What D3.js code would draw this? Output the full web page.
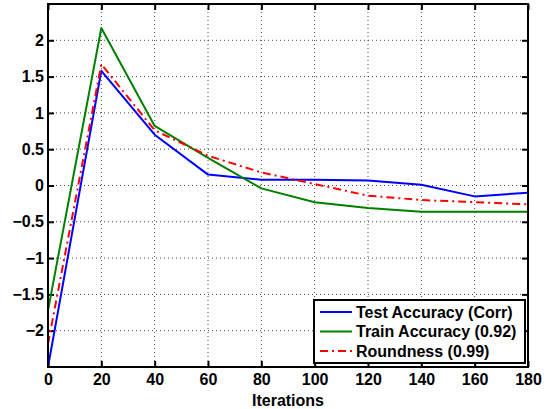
<!DOCTYPE html>
<html>
<head>
<meta charset="utf-8">
<script src="https://cdn.jsdelivr.net/npm/d3@7"></script>
<style>
  body { margin: 0; background: #fff; }
  text { font-family: 'Liberation Sans', Arial, sans-serif; font-weight: bold; }
</style>
</head>
<body>
<div class="vis-container"></div>
<script>
// Chart data
const iterations = [0, 20, 40, 60, 80, 100, 120, 140, 160, 180];
const testAccuracy = [-2.5, 1.58, 0.70, 0.15, 0.08, 0.08, 0.07, 0.01, -0.15, -0.10];
const trainAccuracy = [-1.72, 2.17, 0.82, 0.38, -0.04, -0.23, -0.31, -0.36, -0.36, -0.36];
const roundness = [-2.18, 1.67, 0.76, 0.41, 0.18, 0.02, -0.14, -0.20, -0.23, -0.26];
const seriesNames = ['Test Accuracy (Corr)', 'Train Accuracy (0.92)', 'Roundness (0.99)'];
const xTicks = [0, 20, 40, 60, 80, 100, 120, 140, 160, 180];
const yTicks = [-2, -1.5, -1, -0.5, 0, 0.5, 1, 1.5, 2];

const margin = { top: 4, right: 24, bottom: 42, left: 48 };
const width = 552 - margin.left - margin.right;
const height = 409 - margin.top - margin.bottom;

const svg = d3
  .select('.vis-container')
  .append('svg')
  .attr('width', 552)
  .attr('height', 409);

const group = svg
  .append('g')
  .attr('transform', 'translate(' + margin.left + ',' + margin.top + ')');

const xScale = d3.scaleLinear().domain([0, 180]).range([0, width]);
const yScale = d3.scaleLinear().domain([-2.5, 2.5]).range([height, 0]);

// Dotted grid
group
  .append('g')
  .selectAll('line')
  .data(xTicks.slice(1, -1))
  .join('line')
  .attr('x1', (d) => xScale(d))
  .attr('x2', (d) => xScale(d))
  .attr('y1', 0)
  .attr('y2', height)
  .attr('stroke', '#444')
  .attr('stroke-width', 1)
  .attr('stroke-dasharray', '1,3');

group
  .append('g')
  .selectAll('line')
  .data(yTicks)
  .join('line')
  .attr('x1', 0)
  .attr('x2', width)
  .attr('y1', (d) => yScale(d))
  .attr('y2', (d) => yScale(d))
  .attr('stroke', '#444')
  .attr('stroke-width', 1)
  .attr('stroke-dasharray', '1,3');

// Axes (MATLAB style: ticks inside, box on)
const fmt = (d) => (d < 0 ? '\u2212' + Math.abs(d) : String(d));

group
  .append('g')
  .attr('transform', `translate(0, ${height})`)
  .call(d3.axisBottom(xScale).tickValues(xTicks).tickSizeInner(-6).tickSizeOuter(0).tickPadding(7))
  .call((g) => g.select('.domain').remove())
  .call((g) => g.selectAll('.tick line').attr('stroke', 'black').attr('stroke-width', 2))
  .call((g) => g.selectAll('.tick text').attr('font-size', 16).attr('fill', 'black'));

group
  .append('g')
  .call(d3.axisTop(xScale).tickValues(xTicks).tickSizeInner(-6).tickSizeOuter(0).tickFormat(''))
  .call((g) => g.select('.domain').remove())
  .call((g) => g.selectAll('.tick line').attr('stroke', 'black').attr('stroke-width', 2));

group
  .append('g')
  .call(d3.axisLeft(yScale).tickValues(yTicks).tickSizeInner(-6).tickSizeOuter(0).tickPadding(4).tickFormat(fmt))
  .call((g) => g.select('.domain').remove())
  .call((g) => g.selectAll('.tick line').attr('stroke', 'black').attr('stroke-width', 2))
  .call((g) => g.selectAll('.tick text').attr('font-size', 16).attr('fill', 'black'));

group
  .append('g')
  .attr('transform', `translate(${width}, 0)`)
  .call(d3.axisRight(yScale).tickValues(yTicks).tickSizeInner(-6).tickSizeOuter(0).tickFormat(''))
  .call((g) => g.select('.domain').remove())
  .call((g) => g.selectAll('.tick line').attr('stroke', 'black').attr('stroke-width', 2));

group
  .append('text')
  .attr('x', width / 2)
  .attr('y', height + 39)
  .attr('text-anchor', 'middle')
  .attr('font-size', 16)
  .text('Iterations');

// Series lines
const series = [
  { name: seriesNames[0], values: testAccuracy, color: '#0000ff', dash: null },
  { name: seriesNames[1], values: trainAccuracy, color: '#008000', dash: null },
  { name: seriesNames[2], values: roundness, color: '#ff0000', dash: '8,4,2,4' }
];

const line = d3
  .line()
  .x((d, i) => xScale(iterations[i]))
  .y((d) => yScale(d));

group
  .append('g')
  .selectAll('path')
  .data(series)
  .join('path')
  .attr('fill', 'none')
  .attr('stroke', (d) => d.color)
  .attr('stroke-width', 2)
  .attr('stroke-linejoin', 'round')
  .attr('stroke-dasharray', (d) => d.dash)
  .attr('d', (d) => line(d.values));

// Box
group
  .append('rect')
  .attr('x', 0)
  .attr('y', 0)
  .attr('width', width)
  .attr('height', height)
  .attr('fill', 'none')
  .attr('stroke', 'black')
  .attr('stroke-width', 2);

// Legend
const legend = group
  .append('g')
  .attr('transform', `translate(${width - 214}, ${height - 67})`);

legend
  .append('rect')
  .attr('width', 211)
  .attr('height', 63)
  .attr('fill', 'white')
  .attr('stroke', 'black')
  .attr('stroke-width', 2);

const item = legend
  .selectAll('g')
  .data(series)
  .join('g')
  .attr('transform', (d, i) => `translate(0, ${12 + i * 19.5})`);

item
  .append('line')
  .attr('x1', 6)
  .attr('x2', 38)
  .attr('stroke', (d) => d.color)
  .attr('stroke-width', 2)
  .attr('stroke-dasharray', (d) => d.dash);

item
  .append('text')
  .attr('x', 42)
  .attr('dy', '0.36em')
  .attr('font-size', 16)
  .text((d) => d.name);
</script>
</body>
</html>
